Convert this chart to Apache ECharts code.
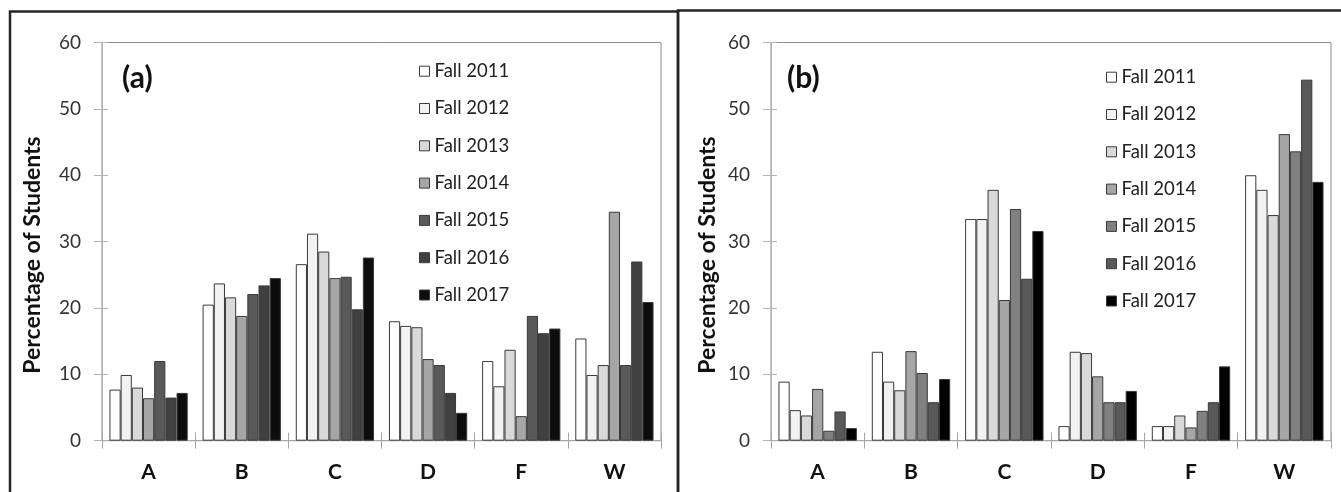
<!DOCTYPE html>
<html>
<head>
<meta charset="utf-8">
<script src="https://cdn.jsdelivr.net/npm/echarts@6/dist/echarts.min.js"></script>
<style>
html,body{margin:0;padding:0;background:#fff;}
#c{width:1341px;height:492px;}
</style>
</head>
<body>
<div id="c"></div>
<script>
// ---- data ----
const categories = ['A', 'B', 'C', 'D', 'F', 'W'];
const seriesNames = ['Fall 2011', 'Fall 2012', 'Fall 2013', 'Fall 2014', 'Fall 2015', 'Fall 2016', 'Fall 2017'];
const yMin = 0, yMax = 60, yStep = 10;

// panel (a)
const a2011 = [7.7, 20.5, 26.6, 18.0, 12.0, 15.4];
const a2012 = [9.9, 23.7, 31.2, 17.3, 8.2, 9.9];
const a2013 = [8.0, 21.6, 28.5, 17.1, 13.7, 11.4];
const a2014 = [6.4, 18.8, 24.5, 12.3, 3.7, 34.5];
const a2015 = [12.0, 22.1, 24.7, 11.4, 18.8, 11.4];
const a2016 = [6.5, 23.4, 19.8, 7.2, 16.2, 27.0];
const a2017 = [7.2, 24.5, 27.6, 4.2, 16.9, 20.9];

// panel (b)
const b2011 = [8.9, 13.4, 33.4, 2.2, 2.2, 40.0];
const b2012 = [4.6, 8.9, 33.4, 13.4, 2.2, 37.8];
const b2013 = [3.8, 7.6, 37.8, 13.2, 3.8, 34.0];
const b2014 = [7.8, 13.5, 21.2, 9.7, 2.0, 46.2];
const b2015 = [1.5, 10.2, 34.9, 5.8, 4.5, 43.6];
const b2016 = [4.4, 5.8, 24.4, 5.8, 5.8, 54.4];
const b2017 = [1.9, 9.3, 31.6, 7.5, 11.2, 39.0];

// ---- styles ----
const colorsA = ['#ffffff', '#f2f2f2', '#d9d9d9', '#a6a6a6', '#595959', '#404040', '#0d0d0d'];
const colorsB = ['#ffffff', '#f2f2f2', '#d9d9d9', '#a6a6a6', '#808080', '#595959', '#000000'];
const FONT = 'Lato';
const dataA = [a2011, a2012, a2013, a2014, a2015, a2016, a2017];
const dataB = [b2011, b2012, b2013, b2014, b2015, b2016, b2017];

const chart = echarts.init(document.getElementById('c'), null, {renderer: 'canvas'});

const grids = [
  {left: 102, right: 680, top: 42.5, bottom: 51.3, show: true, borderColor: '#8c8c8c', borderWidth: 1},
  {left: 771, right: 10, top: 42.5, bottom: 51.3, show: true, borderColor: '#8c8c8c', borderWidth: 1}
];

const xAxes = [], yAxes = [];
[0, 1].forEach(g => {
  xAxes.push({
    type: 'category', gridIndex: g, data: categories, position: 'bottom',
    axisLine: {lineStyle: {color: '#a6a6a6', width: 1}},
    axisTick: {show: true, length: 8, lineStyle: {color: '#a6a6a6'}},
    axisLabel: {fontFamily: FONT, fontSize: 21, fontWeight: 'bold', color: '#111', margin: 21},
    splitLine: {show: false}
  });
  xAxes.push({
    type: 'category', gridIndex: g, data: categories, position: 'bottom', offset: 0,
    axisLine: {show: false},
    axisTick: {show: true, inside: true, length: 8, lineStyle: {color: '#a6a6a6'}},
    axisLabel: {show: false}, splitLine: {show: false}
  });
  yAxes.push({
    type: 'value', gridIndex: g, min: yMin, max: yMax, interval: yStep, position: 'left',
    axisLine: {show: true, lineStyle: {color: '#b3b3b3'}},
    axisTick: {show: true, length: 8, lineStyle: {color: '#b3b3b3'}},
    axisLabel: {fontFamily: FONT, fontSize: 19, color: '#333', margin: 21},
    splitLine: {show: false}
  });
  yAxes.push({
    type: 'value', gridIndex: g, min: yMin, max: yMax, interval: yStep, position: 'left', offset: 0,
    axisLine: {show: false},
    axisTick: {show: true, inside: true, length: 6, lineStyle: {color: '#b3b3b3'}},
    axisLabel: {show: false}, splitLine: {show: false}
  });
});

const series = [];
seriesNames.forEach((n, i) => {
  series.push({
    name: n, type: 'bar', xAxisIndex: 0, yAxisIndex: 0, data: dataA[i],
    barGap: '0%', barCategoryGap: '16%',
    itemStyle: {color: colorsA[i], borderColor: '#3a3a3a', borderWidth: 1}
  });
});
seriesNames.forEach((n, i) => {
  series.push({
    name: n, type: 'bar', xAxisIndex: 2, yAxisIndex: 2, data: dataB[i],
    barGap: '0%', barCategoryGap: '16%',
    itemStyle: {color: colorsB[i], borderColor: '#3a3a3a', borderWidth: 1}
  });
});

function legendData(colors) {
  return seriesNames.map((n, i) => ({name: n, itemStyle: {color: colors[i], borderColor: '#3a3a3a', borderWidth: 1}}));
}
const legendCommon = {
  orient: 'vertical', itemWidth: 10, itemHeight: 10, itemGap: 18.3, selectedMode: false,
  icon: 'rect', padding: 0,
  textStyle: {fontFamily: FONT, fontSize: 18.5, color: '#222', lineHeight: 18}
};

const option = {
  animation: false,
  backgroundColor: '#ffffff',
  grid: grids,
  xAxis: xAxes,
  yAxis: yAxes,
  legend: [
    Object.assign({}, legendCommon, {left: 419, top: 61.7, data: legendData(colorsA)}),
    Object.assign({}, legendCommon, {left: 1106, top: 67.7, data: legendData(colorsB)})
  ],
  series: series,
  graphic: [
    {type: 'rect', shape: {x: 10, y: 11.5, width: 668, height: 520}, style: {fill: 'none', stroke: '#262626', lineWidth: 2.5}, z: 100},
    {type: 'rect', shape: {x: 678, y: 10.5, width: 700, height: 520}, style: {fill: 'none', stroke: '#262626', lineWidth: 2.5}, z: 100},
    {type: 'text', x: 122, y: 78, style: {text: '(a)', fontFamily: FONT, fontSize: 30, fontWeight: 'bold', fill: '#111', verticalAlign: 'middle', textAlign: 'left'}},
    {type: 'text', x: 787, y: 78, style: {text: '(b)', fontFamily: FONT, fontSize: 30, fontWeight: 'bold', fill: '#111', verticalAlign: 'middle', textAlign: 'left'}},
    {type: 'text', x: 33, y: 255, rotation: Math.PI / 2, style: {text: 'Percentage of Students', fontFamily: FONT, fontSize: 23, fontWeight: 'bold', fill: '#111', verticalAlign: 'middle', textAlign: 'center'}},
    {type: 'text', x: 708, y: 255, rotation: Math.PI / 2, style: {text: 'Percentage of Students', fontFamily: FONT, fontSize: 23, fontWeight: 'bold', fill: '#111', verticalAlign: 'middle', textAlign: 'center'}}
  ]
};
chart.setOption(option);
</script>
</body>
</html>
